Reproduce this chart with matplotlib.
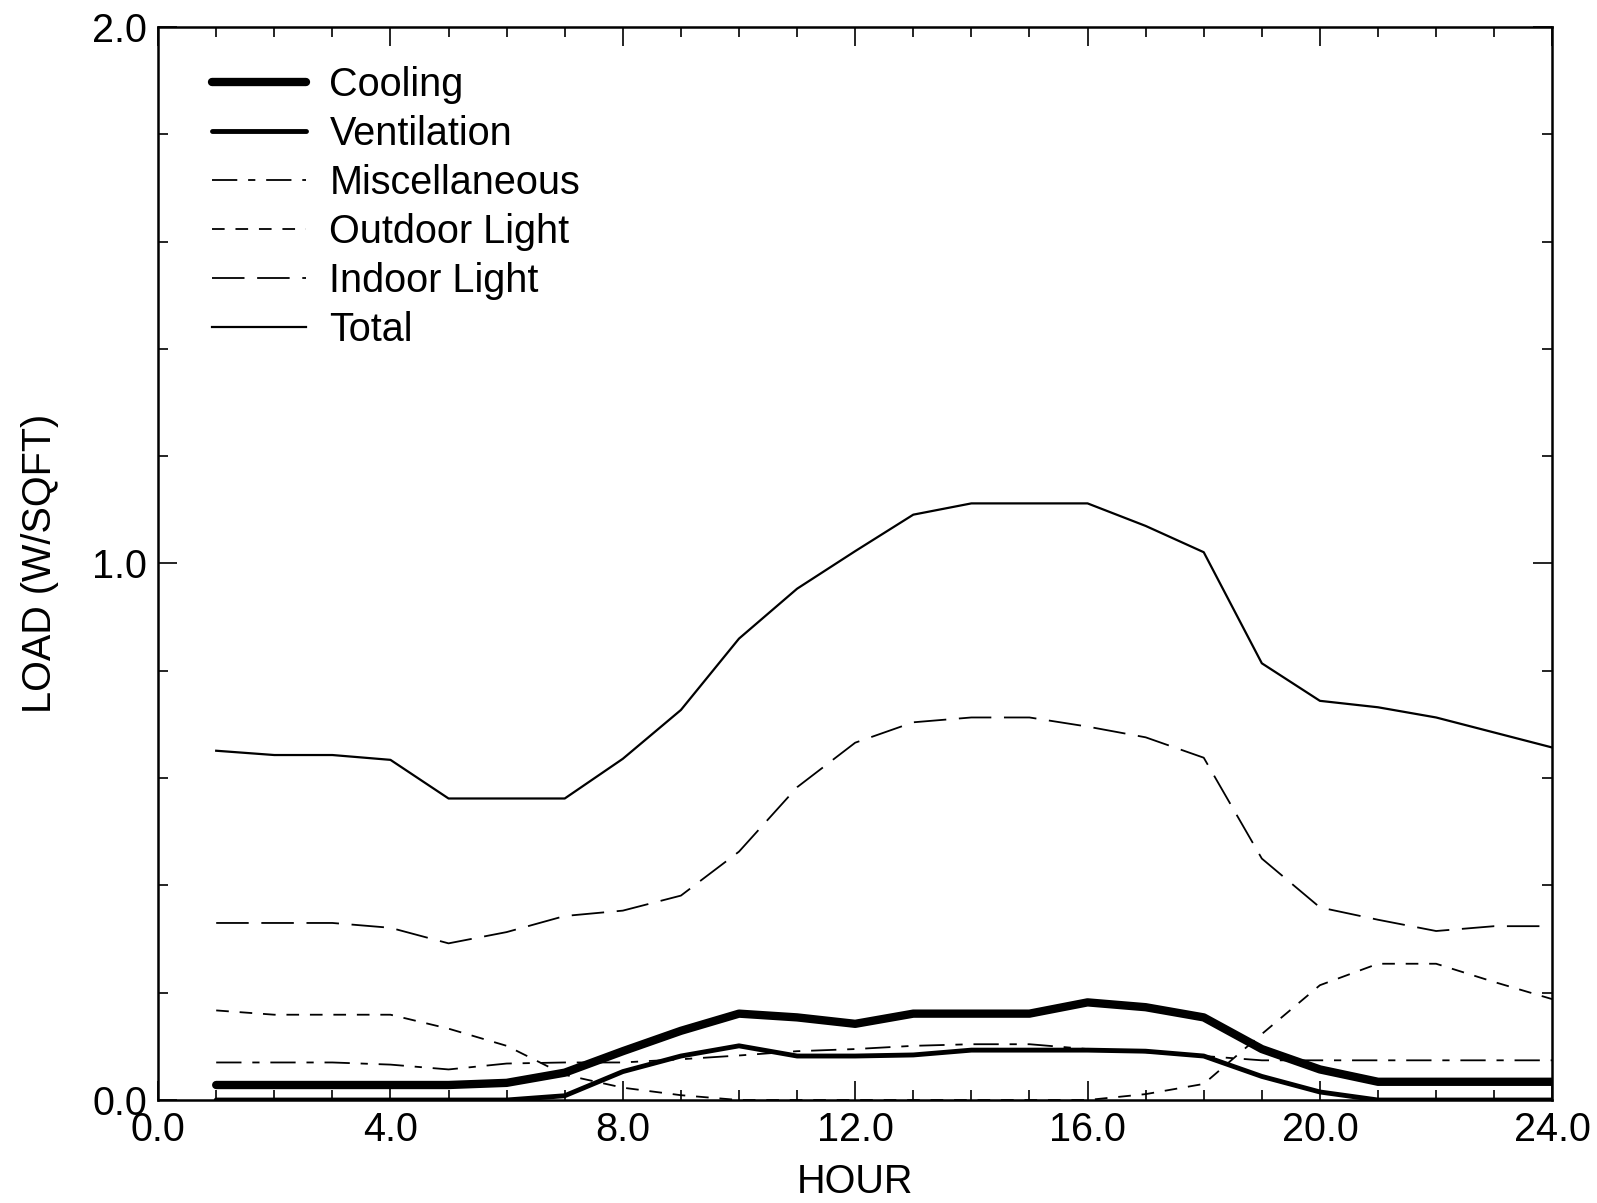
import matplotlib
matplotlib.use("Agg")
import matplotlib.pyplot as plt
from matplotlib.ticker import MultipleLocator, FixedLocator

hours = list(range(1, 25))
total = [0.651, 0.643, 0.643, 0.634, 0.562, 0.562, 0.562, 0.636, 0.727, 0.860, 0.953, 1.023,
         1.091, 1.112, 1.112, 1.112, 1.070, 1.021, 0.814, 0.744, 0.732, 0.713, 0.685, 0.657]
indoor = [0.330, 0.330, 0.330, 0.321, 0.292, 0.313, 0.343, 0.353, 0.381, 0.463, 0.583, 0.666,
          0.704, 0.713, 0.713, 0.696, 0.676, 0.638, 0.450, 0.359, 0.336, 0.315, 0.324, 0.324]
outdoor = [0.167, 0.159, 0.159, 0.159, 0.133, 0.101, 0.047, 0.023, 0.009, 0.0, 0.0, 0.0,
           0.0, 0.0, 0.0, 0.0, 0.011, 0.030, 0.123, 0.214, 0.254, 0.254, 0.220, 0.188]
cooling = [0.028, 0.028, 0.028, 0.028, 0.028, 0.032, 0.051, 0.091, 0.129, 0.161, 0.154, 0.142,
           0.161, 0.161, 0.161, 0.182, 0.173, 0.154, 0.095, 0.057, 0.034, 0.034, 0.034, 0.034]
ventilation = [0.0, 0.0, 0.0, 0.0, 0.0, 0.0, 0.008, 0.053, 0.082, 0.101, 0.082, 0.082,
               0.084, 0.093, 0.093, 0.093, 0.091, 0.082, 0.044, 0.015, 0.0, 0.0, 0.0, 0.0]
misc = [0.070, 0.070, 0.070, 0.066, 0.057, 0.068, 0.070, 0.070, 0.076, 0.083, 0.091, 0.095,
        0.101, 0.104, 0.104, 0.095, 0.089, 0.082, 0.074, 0.074, 0.074, 0.074, 0.074, 0.074]

x_ticks = [0, 4, 8, 12, 16, 20, 24]
x_labels = ["0.0", "4.0", "8.0", "12.0", "16.0", "20.0", "24.0"]
y_ticks = [0, 1, 2]
y_labels = ["0.0", "1.0", "2.0"]

plt.rcParams['font.family'] = ['Liberation Sans', 'DejaVu Sans']

fig = plt.figure(figsize=(15.97, 12.03), dpi=100)
ax = fig.add_axes([0.099, 0.0856, 0.873, 0.892])

ax.plot(hours, cooling, color='black', lw=6, solid_capstyle='round', label='Cooling')
ax.plot(hours, ventilation, color='black', lw=3.5, solid_capstyle='round', label='Ventilation')
ax.plot(hours, misc, color='black', lw=1.3, linestyle=(0, (14, 6, 4, 6)), label='Miscellaneous')
ax.plot(hours, outdoor, color='black', lw=1.3, linestyle=(0, (7, 6)), label='Outdoor Light')
ax.plot(hours, indoor, color='black', lw=1.3, linestyle=(0, (18, 7)), label='Indoor Light')
ax.plot(hours, total, color='black', lw=1.6, label='Total')

ax.set_xlim(0, 24)
ax.set_ylim(0, 2)
ax.xaxis.set_major_locator(FixedLocator(x_ticks))
ax.set_xticklabels(x_labels)
ax.xaxis.set_minor_locator(MultipleLocator(1))
ax.yaxis.set_major_locator(FixedLocator(y_ticks))
ax.set_yticklabels(y_labels)
ax.yaxis.set_minor_locator(MultipleLocator(0.2))
ax.tick_params(which='both', direction='in', top=True, right=True, width=1.2)
ax.tick_params(which='major', length=14, labelsize=28.5, pad=8)
ax.tick_params(which='minor', length=7)
for s in ax.spines.values():
    s.set_linewidth(1.8)

ax.set_xlabel('HOUR', fontsize=28.5, labelpad=10)
ax.set_ylabel('LOAD (W/SQFT)', fontsize=28.5, labelpad=24)

leg = ax.legend(loc='upper left', bbox_to_anchor=(0.013, 0.997), frameon=False, fontsize=28.5,
                handlelength=2.37, handletextpad=0.6, labelspacing=0.28)

fig.savefig('out.png', dpi=100)
